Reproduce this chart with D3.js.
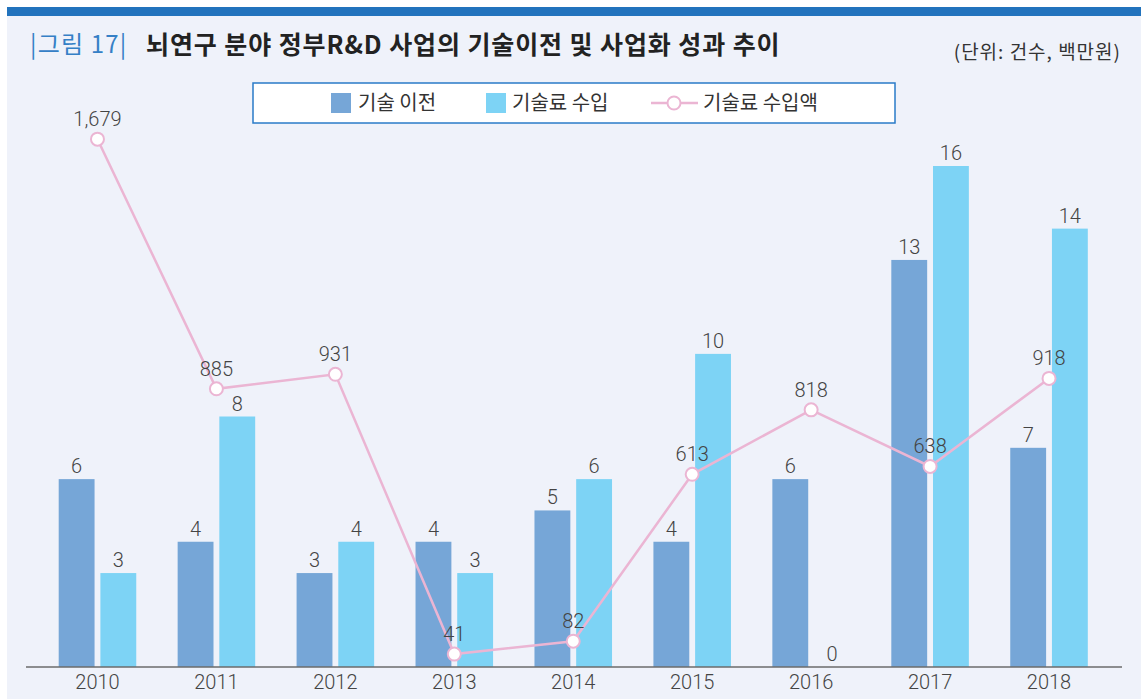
<!DOCTYPE html>
<html>
<head>
<meta charset="utf-8">
<script src="https://cdn.jsdelivr.net/npm/d3@7"></script>
<style>
  body { margin: 0; background: #fff; }
  svg { display: block; }
  text { font-family: "Noto Sans CJK KR", "Noto Sans", sans-serif; }
  .num { font-family: "Roboto", "Noto Sans CJK KR", sans-serif; font-weight: 300; }
</style>
</head>
<body>
<svg id="viz" width="1141" height="699"></svg>
<script>
// data
var years = ["2010", "2011", "2012", "2013", "2014", "2015", "2016", "2017", "2018"];
var transfers = [6, 4, 3, 4, 5, 4, 6, 13, 7];          // 기술 이전 (건수)
var royaltyCount = [3, 8, 4, 3, 6, 10, 0, 16, 14];     // 기술료 수입 (건수)
var royaltyAmount = [1679, 885, 931, 41, 82, 613, 818, 638, 918]; // 기술료 수입액 (백만원)
var seriesNames = ["기술 이전", "기술료 수입", "기술료 수입액"];

var colors = { transfer: "#76a6d7", royalty: "#7dd3f5", line: "#ebb5d3" };

var svg = d3.select("#viz"),
  width = +svg.attr("width"),
  height = +svg.attr("height");

// background + top band
svg.append("rect").attr("x", 7).attr("y", 7).attr("width", width - 7).attr("height", height - 7).attr("fill", "#eff2fa");
svg.append("rect").attr("x", 7).attr("y", 7).attr("width", width - 7).attr("height", 9).attr("fill", "#2273bd");

// title
svg.append("text").attr("x", 30).attr("y", 53).attr("fill", "#3580c6")
  .style("font-size", "24px").style("letter-spacing", "1.2px").text("|그림 17|");
svg.append("text").attr("x", 146).attr("y", 54).attr("fill", "#222")
  .style("font-size", "25px").style("font-weight", "bold").style("letter-spacing", "0.9px")
  .text("뇌연구 분야 정부R&D 사업의 기술이전 및 사업화 성과 추이");
svg.append("text").attr("x", 1121).attr("y", 59).attr("text-anchor", "end").attr("fill", "#333")
  .style("font-size", "19px").style("letter-spacing", "1px").text("(단위: 건수, 백만원)");

// scales
var baseY = 667;
var x0 = d3.scaleBand().domain(years).range([38, 1108.5]).paddingInner(0.348).paddingOuter(0.174);
var x1 = d3.scaleBand().domain(["transfer", "royalty"]).range([0, x0.bandwidth()]).paddingInner(0.14);
var yBar = d3.scaleLinear().domain([0, 16]).range([baseY, baseY - 501]);
var yLine = d3.scaleLinear().domain([0, 1600]).range([baseY, baseY - 503]);

var rows = years.map(function(y, i) {
  return { year: y, transfer: transfers[i], royalty: royaltyCount[i], amount: royaltyAmount[i] };
});

// bars
var groups = svg.append("g").selectAll("g").data(rows).enter().append("g")
  .attr("transform", function(d) { return "translate(" + x0(d.year) + ",0)"; });

var bars = groups.selectAll("g").data(function(d) {
  return [{ key: "transfer", value: d.transfer }, { key: "royalty", value: d.royalty }];
}).enter().append("g");

bars.append("rect")
  .attr("x", function(d) { return x1(d.key); })
  .attr("y", function(d) { return yBar(d.value); })
  .attr("width", x1.bandwidth())
  .attr("height", function(d) { return baseY - yBar(d.value); })
  .attr("fill", function(d) { return colors[d.key]; });

bars.append("text").attr("class", "num")
  .attr("x", function(d) { return x1(d.key) + x1.bandwidth() / 2; })
  .attr("y", function(d) { return yBar(d.value) - 6; })
  .attr("text-anchor", "middle").attr("fill", "#444").style("font-size", "20px")
  .text(function(d) { return d.value; });

// axis
svg.append("line").attr("x1", 26).attr("x2", 1122).attr("y1", baseY).attr("y2", baseY)
  .attr("stroke", "#6b6b6b").attr("stroke-width", 1.5);

var xAxis = svg.append("g").attr("transform", "translate(0," + baseY + ")")
  .call(d3.axisBottom(x0).tickSize(0).tickPadding(8));
xAxis.select(".domain").remove();
xAxis.selectAll("text").attr("class", "num").attr("fill", "#444").style("font-size", "20px");

// line
var cx = function(d) { return x0(d.year) + x0.bandwidth() / 2; };
var line = d3.line().x(cx).y(function(d) { return yLine(d.amount); });

svg.append("path").datum(rows).attr("d", line)
  .attr("fill", "none").attr("stroke", colors.line).attr("stroke-width", 2.5);

svg.append("g").selectAll("circle").data(rows).enter().append("circle")
  .attr("cx", cx).attr("cy", function(d) { return yLine(d.amount); })
  .attr("r", 6.5).attr("fill", "#fff").attr("stroke", colors.line).attr("stroke-width", 2);

svg.append("g").selectAll("text").data(rows).enter().append("text").attr("class", "num")
  .attr("x", cx).attr("y", function(d) { return yLine(d.amount) - 13; })
  .attr("text-anchor", "middle").attr("fill", "#444").style("font-size", "20px")
  .text(function(d) { return d3.format(",")(d.amount); });

// legend
var legend = svg.append("g");
legend.append("rect").attr("x", 253).attr("y", 83).attr("width", 642).attr("height", 40)
  .attr("fill", "#fff").attr("stroke", "#2a7bc8").attr("stroke-width", 1.5);
legend.append("rect").attr("x", 331).attr("y", 93).attr("width", 20).attr("height", 20).attr("fill", colors.transfer);
legend.append("text").attr("x", 358).attr("y", 110).attr("fill", "#333").style("font-size", "20px").text(seriesNames[0]);
legend.append("rect").attr("x", 486).attr("y", 93).attr("width", 20).attr("height", 20).attr("fill", colors.royalty);
legend.append("text").attr("x", 512).attr("y", 110).attr("fill", "#333").style("font-size", "20px").text(seriesNames[1]);
legend.append("line").attr("x1", 651).attr("x2", 698).attr("y1", 103).attr("y2", 103)
  .attr("stroke", colors.line).attr("stroke-width", 2.5);
legend.append("circle").attr("cx", 674).attr("cy", 103).attr("r", 6.5)
  .attr("fill", "#fff").attr("stroke", colors.line).attr("stroke-width", 2);
legend.append("text").attr("x", 703).attr("y", 110).attr("fill", "#333").style("font-size", "20px").text(seriesNames[2]);
</script>
</body>
</html>
